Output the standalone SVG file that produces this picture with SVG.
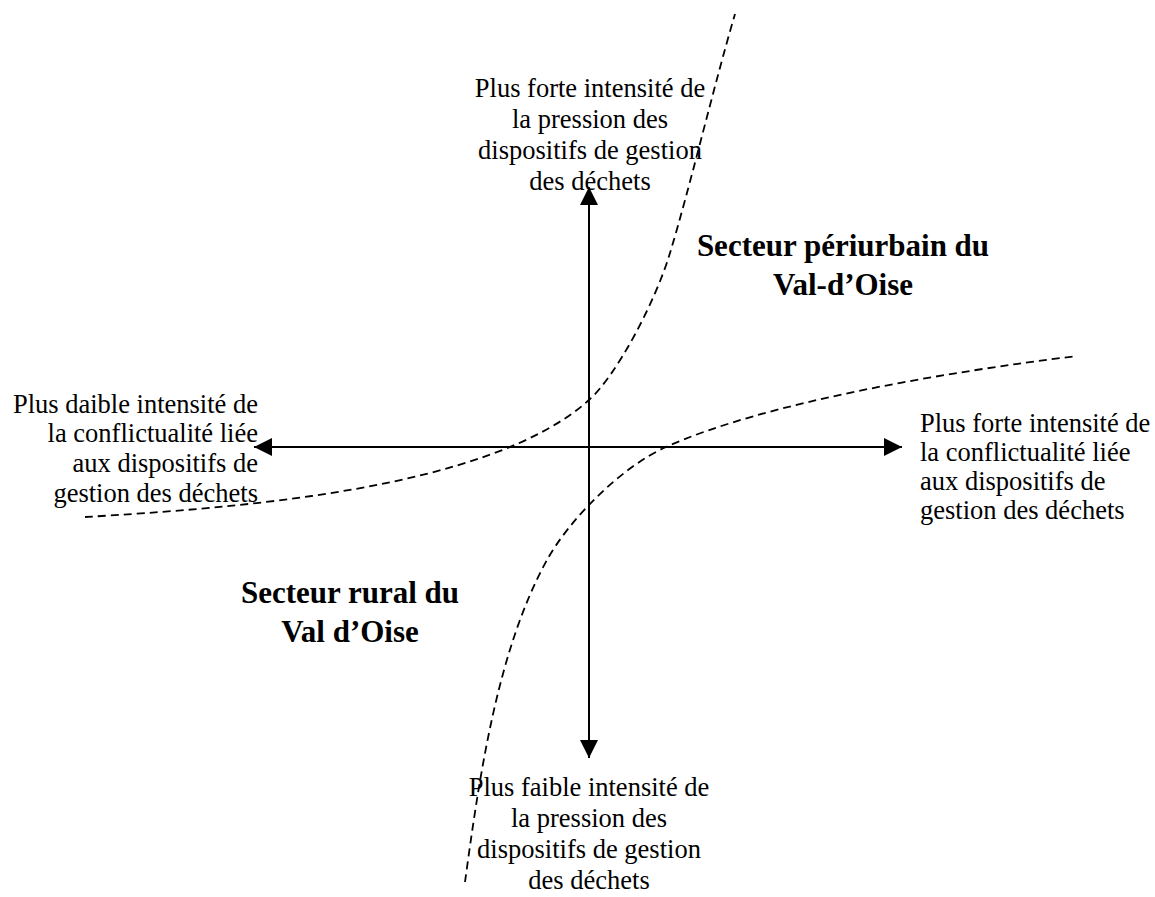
<svg xmlns="http://www.w3.org/2000/svg" width="1155" height="897" viewBox="0 0 1155 897">
<style>
.lbl{font-family:"Liberation Serif","Times New Roman",serif;font-size:26.5px;fill:#000}
.hd{font-family:"Liberation Serif","Times New Roman",serif;font-size:31px;font-weight:bold;fill:#000}
.axis{stroke:#000;stroke-width:2;fill:none}
.dash{stroke:#000;stroke-width:1.8;fill:none;stroke-dasharray:8 5}
</style>
<defs>
<marker id="ah" markerUnits="userSpaceOnUse" markerWidth="18" markerHeight="18" viewBox="0 0 16 16" refX="16" refY="8" orient="auto">
<path d="M0,0 L16,8 L0,16 Z" fill="#000"/>
</marker>
</defs>
<rect width="1155" height="897" fill="#fff"/>
<g id="connectors">
<line class="axis" x1="589" y1="447" x2="589" y2="187" marker-end="url(#ah)"/>
<line class="axis" x1="589" y1="447" x2="589" y2="758" marker-end="url(#ah)"/>
<line class="axis" x1="589" y1="447" x2="254" y2="447" marker-end="url(#ah)"/>
<line class="axis" x1="589" y1="447" x2="902" y2="447" marker-end="url(#ah)"/>
<path id="curve-periurbain" class="dash" d="M85,517 C235,508 489,490 589,400 C616,376 655,303 670,253 C690,187 713,89 735,14"/>
<path id="curve-rural" class="dash" d="M465,882 C479,780 497,650 547,560 C569,520 621,467 666,447 C766,402 947,372 1077,356"/>
</g>
<g id="label-top">
<text class="lbl" text-anchor="middle" x="590" y="97">Plus forte intensité de</text>
<text class="lbl" text-anchor="middle" x="590" y="128">la pression des</text>
<text class="lbl" text-anchor="middle" x="590" y="159">dispositifs de gestion</text>
<text class="lbl" text-anchor="middle" x="590" y="190">des déchets</text>
</g>
<g id="label-bottom">
<text class="lbl" text-anchor="middle" x="589" y="796">Plus faible intensité de</text>
<text class="lbl" text-anchor="middle" x="589" y="827">la pression des</text>
<text class="lbl" text-anchor="middle" x="589" y="858">dispositifs de gestion</text>
<text class="lbl" text-anchor="middle" x="589" y="889">des déchets</text>
</g>
<g id="label-left">
<text class="lbl" text-anchor="end" x="258" y="413">Plus daible intensité de</text>
<text class="lbl" text-anchor="end" x="258" y="442">la conflictualité liée</text>
<text class="lbl" text-anchor="end" x="258" y="472">aux dispositifs de</text>
<text class="lbl" text-anchor="end" x="258" y="502">gestion des déchets</text>
</g>
<g id="label-right">
<text class="lbl" x="920" y="432">Plus forte intensité de</text>
<text class="lbl" x="920" y="461">la conflictualité liée</text>
<text class="lbl" x="920" y="490">aux dispositifs de</text>
<text class="lbl" x="920" y="519">gestion des déchets</text>
</g>
<g id="sector-periurbain">
<text class="hd" text-anchor="middle" x="843" y="256">Secteur périurbain du</text>
<text class="hd" text-anchor="middle" x="843" y="295">Val-d’Oise</text>
</g>
<g id="sector-rural">
<text class="hd" text-anchor="middle" x="350" y="603">Secteur rural du</text>
<text class="hd" text-anchor="middle" x="350" y="642">Val d’Oise</text>
</g>
</svg>
